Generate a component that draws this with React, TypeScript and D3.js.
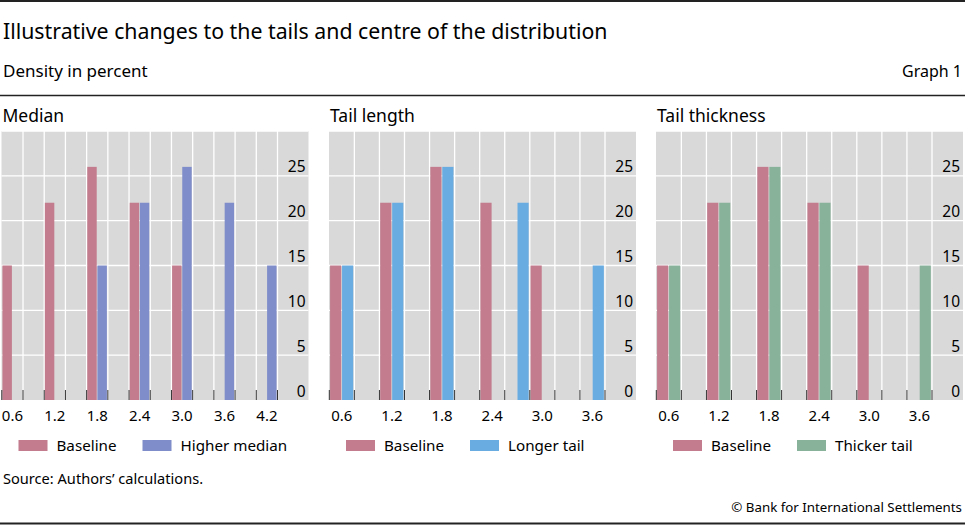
import React from "react";
import * as d3 from "d3";

// ---- data ----
const medianBins = ["0.6", "0.9", "1.2", "1.5", "1.8", "2.1", "2.4", "2.7", "3.0", "3.3", "3.6", "3.9", "4.2"];
const medianBaseline = [15, 0, 22, 0, 26, 0, 22, 0, 15, 0, 0, 0, 0];
const medianHigher = [0, 0, 0, 0, 15, 0, 22, 0, 26, 0, 22, 0, 15];
const medianTickLabels = ["0.6", "1.2", "1.8", "2.4", "3.0", "3.6", "4.2"];

const tailBins = ["0.6", "0.9", "1.2", "1.5", "1.8", "2.1", "2.4", "2.7", "3.0", "3.3", "3.6"];
const lengthBaseline = [15, 0, 22, 0, 26, 0, 22, 0, 15, 0, 0];
const lengthLonger = [15, 0, 22, 0, 26, 0, 0, 22, 0, 0, 15];
const thickBaseline = [15, 0, 22, 0, 26, 0, 22, 0, 15, 0, 0];
const thickThicker = [15, 0, 22, 0, 26, 0, 22, 0, 0, 0, 15];
const tailTickLabels = ["0.6", "1.2", "1.8", "2.4", "3.0", "3.6"];

const yTicks = [0, 5, 10, 15, 20, 25];
const gridValues = [0, 5, 10, 15, 20, 25, 30];

const panelTitles = ["Median", "Tail length", "Tail thickness"];
const seriesNames = [["Baseline", "Higher median"], ["Baseline", "Longer tail"], ["Baseline", "Thicker tail"]];

const PINK = "#c27c8d";
const COLORS2 = ["#7f8dca", "#68ace2", "#89b29b"];

const FONT = "'Noto Sans', 'Open Sans', sans-serif";
const W = 965;
const H = 525;

type PanelProps = {
  left: number;
  title: string;
  bins: string[];
  a: number[];
  b: number[];
  colorB: string;
  tickLabels: string[];
  names: string[];
};

const PLOT_TOP = 131;
const PLOT_BOTTOM = 400;
const PANEL_W = 307;
const BAND_W = 276;

function Panel({ left, title, bins, a, b, colorB, tickLabels, names }: PanelProps) {
  const x = d3.scaleBand<string>().domain(bins).range([left + 0.3, left + BAND_W]).padding(0);
  const inner = d3.scaleBand<string>().domain(["a", "b"]).range([0, x.bandwidth()]).paddingInner(0.07).paddingOuter(0.08).align(0.4);
  const y = d3.scaleLinear().domain([0, 30]).range([PLOT_BOTTOM, PLOT_TOP]);
  const right = left + PANEL_W;
  const boundaries = bins.map((d) => x(d)!).concat([x(bins[bins.length - 1])! + x.bandwidth()]);
  return (
    <g>
      <text x={left + 1} y={122} fontSize={17.5} fill="#000">{title}</text>
      <rect x={left} y={PLOT_TOP} width={PANEL_W} height={PLOT_BOTTOM - PLOT_TOP} fill="#d9d9d9" />
      {gridValues.slice(1).map((v) => (
        <line key={"h" + v} x1={left} x2={right} y1={y(v)} y2={y(v)} stroke="#fff" strokeWidth={1.3} />
      ))}
      {boundaries.slice(1).map((bx, i) => (
        <line key={"v" + i} x1={bx} x2={bx} y1={PLOT_TOP} y2={PLOT_BOTTOM} stroke="#fff" strokeWidth={1.3} />
      ))}
      {bins.map((d, i) =>
        a[i] > 0 ? (
          <rect key={"a" + i} x={x(d)! + inner("a")!} width={inner.bandwidth()} y={y(a[i])} height={y(0) - y(a[i])} fill={PINK} />
        ) : null
      )}
      {bins.map((d, i) =>
        b[i] > 0 ? (
          <rect key={"b" + i} x={x(d)! + inner("b")!} width={inner.bandwidth()} y={y(b[i])} height={y(0) - y(b[i])} fill={colorB} />
        ) : null
      )}
      {boundaries.map((bx, i) => (
        <line key={"t" + i} x1={bx} x2={bx} y1={PLOT_BOTTOM - 10} y2={PLOT_BOTTOM} stroke="#333" strokeWidth={1} />
      ))}
      {yTicks.map((v) => (
        <text key={"y" + v} x={right - 3} y={y(v) - 3.5} fontSize={15.5} textAnchor="end" fill="#000">{v}</text>
      ))}
      {tickLabels.map((l) => (
        <text key={"x" + l} x={x(l)! + x.bandwidth() / 2} y={421} fontSize={15} textAnchor="middle" fill="#000">{l}</text>
      ))}
      <rect x={left + 17} y={440} width={29} height={11} fill={PINK} />
      <text x={left + 55} y={450.5} fontSize={15.2} fill="#000">{names[0]}</text>
      <rect x={left + 141} y={440} width={29} height={11} fill={colorB} />
      <text x={left + 179} y={450.5} fontSize={15.2} fill="#000">{names[1]}</text>
    </g>
  );
}

export default function App() {
  return (
    <svg width={W} height={H} style={{ position: "absolute", left: 0, top: 0, background: "#fff" }} fontFamily={FONT}>
      <rect x={0} y={0} width={W} height={H} fill="#fff" />
      <line x1={0} x2={W} y1={1} y2={1} stroke="#222" strokeWidth={2} />
      <text x={3} y={38.5} fontSize={21.3} fill="#000">Illustrative changes to the tails and centre of the distribution</text>
      <text x={3} y={76.5} fontSize={17} fill="#000">Density in percent</text>
      <text x={962} y={76.5} fontSize={16} textAnchor="end" fill="#000">Graph 1</text>
      <line x1={0} x2={W} y1={95.5} y2={95.5} stroke="#222" strokeWidth={1.5} />
      <Panel left={1.5} title={panelTitles[0]} bins={medianBins} a={medianBaseline} b={medianHigher} colorB={COLORS2[0]} tickLabels={medianTickLabels} names={seriesNames[0]} />
      <Panel left={329} title={panelTitles[1]} bins={tailBins} a={lengthBaseline} b={lengthLonger} colorB={COLORS2[1]} tickLabels={tailTickLabels} names={seriesNames[1]} />
      <Panel left={656} title={panelTitles[2]} bins={tailBins} a={thickBaseline} b={thickThicker} colorB={COLORS2[2]} tickLabels={tailTickLabels} names={seriesNames[2]} />
      <text x={3} y={484} fontSize={14.6} fill="#000">Source: Authors’ calculations.</text>
      <text x={962} y={512} fontSize={13.3} textAnchor="end" fill="#000">© Bank for International Settlements</text>
      <line x1={0} x2={W} y1={523.5} y2={523.5} stroke="#222" strokeWidth={2} />
    </svg>
  );
}
